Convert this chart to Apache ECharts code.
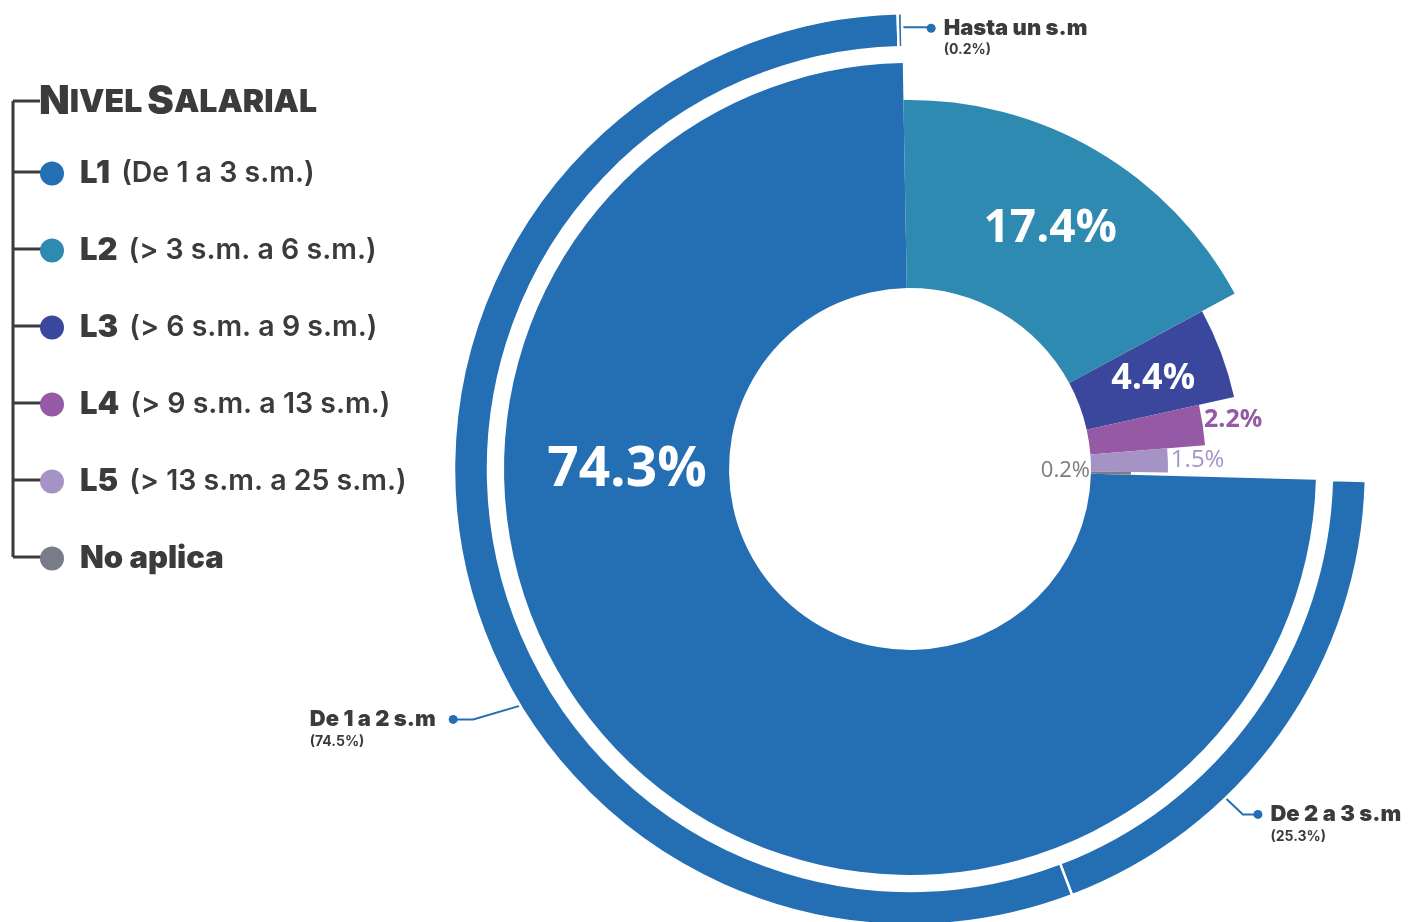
<!DOCTYPE html>
<html><head><meta charset="utf-8">
<script src="https://cdn.jsdelivr.net/npm/echarts@6/dist/echarts.min.js"></script>
<style>html,body{margin:0;padding:0;background:#fff}#c{width:1408px;height:922px}</style>
</head><body><div id="c"></div>
<script>
// ---- data ----
const levels = ['L1', 'L2', 'L3', 'L4', 'L5', 'No aplica'];
const levelRanges = ['De 1 a 3 s.m.', '> 3 s.m. a 6 s.m.', '> 6 s.m. a 9 s.m.', '> 9 s.m. a 13 s.m.', '> 13 s.m. a 25 s.m.', ''];
const levelShares = [74.3, 17.4, 4.4, 2.2, 1.5, 0.2];
const l1Groups = ['De 2 a 3 s.m', 'De 1 a 2 s.m', 'Hasta un s.m'];
const l1GroupShares = [25.3, 74.5, 0.2];

// ---- style ----
const colors = ['#246fb4', '#2e8ab0', '#3b479d', '#9559a5', '#a693c6', '#787b88'];
const CX = 910, CY = 469, R_IN = 181;
const outerR = [406, 369, 332, 296, 258, 221];
const START = -1.5;
const TXT = '#3d3a3a';
const HEAVY = 'Inter';
const LEG_LEFT = 40, LEG_ICON = 24, LEG_TEXT_H = 28, LEG_STEP = 77;
const LEG_GAP = 46;
const LEG_FIRST_Y = 172;
const LEG_TOP = LEG_FIRST_Y - LEG_TEXT_H / 2;

function polar(deg, r) {
  const a = deg * Math.PI / 180;
  return [CX + r * Math.cos(a), CY - r * Math.sin(a)];
}

const hidden = {
  itemStyle: { color: 'rgba(0,0,0,0)', borderWidth: 0 },
  label: { show: false }, labelLine: { show: false },
  emphasis: { disabled: true }
};

const innerLabel = [
  { position: 'inside', fontSize: 55, fontWeight: 700, color: '#fff' },
  { position: 'inside', fontSize: 46, fontWeight: 700, color: '#fff' },
  { position: 'inside', fontSize: 36, fontWeight: 700, color: '#fff' },
  { position: 'outside', fontSize: 25, fontWeight: 700, color: '#9559a5', distanceToLabelLine: 0 },
  { position: 'outside', fontSize: 24, fontWeight: 400, color: '#a693c6', distanceToLabelLine: 3 },
  { position: 'inside', fontSize: 22, fontWeight: 400, color: '#7a7a80' }
];
const innerLayout = {
  0: () => { const p = polar(180.3, 283); return { x: p[0], y: p[1], align: 'center', verticalAlign: 'middle' }; },
  3: () => { const p = polar(9.4, 298); return { x: p[0], y: p[1], align: 'left', verticalAlign: 'middle' }; },
  5: () => { const p = polar(-0.6, R_IN - 1); return { x: p[0], y: p[1], align: 'right', verticalAlign: 'middle' }; }
};

const innerSeries = levels.map((name, i) => ({
  type: 'pie',
  center: [CX, CY],
  radius: [R_IN, outerR[i]],
  startAngle: START,
  clockwise: true,
  avoidLabelOverlap: false,
  silent: true,
  animation: false,
  data: levels.map((n, j) => j === i ? {
    name: n, value: levelShares[j],
    itemStyle: { color: colors[j], borderWidth: 0 },
    label: Object.assign({ show: true, fontFamily: 'Open Sans', formatter: levelShares[j] + '%' }, innerLabel[j]),
    labelLine: { show: false, length: 0, length2: 0 }
  } : Object.assign({ name: '', value: levelShares[j] }, hidden)),
  labelLayout: innerLayout[i] ? function (p) { return p.dataIndex === i ? innerLayout[i](p) : {}; } : undefined
}));

// outer ring: breakdown of L1
const l1 = levelShares[0];
const outerData = l1Groups.map((g, k) => ({
  name: g, value: l1 * l1GroupShares[k] / 100,
  itemStyle: { color: colors[0], borderColor: '#fff', borderWidth: 2.5 },
  label: {
    show: true,
    formatter: k === 1
      ? '{gap| }\n{t|' + g + '}{spl|}{dot|}\n{s|(' + l1GroupShares[k] + '%)}'
      : '{gap| }\n{dot|}{sp|}{t|' + g + '}\n{pad|}{s|(' + l1GroupShares[k] + '%)}'
  },
  labelLine: { show: true, lineStyle: { color: colors[0], width: 2 } }
}));
outerData.push(Object.assign({ name: '', value: 100 - l1 }, hidden));

const anchors = {
  0: () => { const s = polar(-46.2, 455); const e = [s[0] + 18, s[1] + 17]; const f = [e[0] + 15, e[1]]; return { pts: [s, e, f], x: f[0] - 4.5, align: 'left', y: f[1] }; },
  1: () => { const s = polar(211.3, 455); const e = [s[0] - 48, s[1] + 14]; const f = [e[0] - 20, e[1]]; return { pts: [s, e, f], x: f[0] + 4.5, align: 'right', y: f[1] }; },
  2: () => { const s = polar(91.8, 441); const f = [s[0] + 35, s[1] - 1]; return { pts: [s, [s[0] + 1, s[1] - 1], f], x: f[0] - 4.5, align: 'left', y: f[1] + 1 }; }
};

const outerSeries = {
  type: 'pie',
  center: [CX, CY],
  radius: [422, 456],
  startAngle: START,
  clockwise: true,
  avoidLabelOverlap: false,
  silent: true,
  animation: false,
  label: {
    rich: {
      gap: { fontSize: 12, lineHeight: 22 },
      t: { fontFamily: HEAVY, fontWeight: 900, fontSize: 22, color: TXT, lineHeight: 22 },
      s: { fontFamily: HEAVY, fontWeight: 700, fontSize: 14, color: TXT, lineHeight: 22, align: 'left' },
      dot: { width: 9, height: 9, borderRadius: 4.5, backgroundColor: colors[0] },
      sp: { width: 8 },
      spl: { width: 13 },
      pad: { width: 17 }
    }
  },
  data: outerData,
  labelLayout: function (p) {
    const a = anchors[p.dataIndex];
    if (!a) return {};
    const r = a();
    return { x: r.x, y: r.y, align: r.align, verticalAlign: 'middle', labelLinePoints: r.pts };
  }
};

// bracket for legend
const bracket = [];
const titleY = 101;
const iconY = i => LEG_FIRST_Y + i * LEG_STEP;
bracket.push({ type: 'line', shape: { x1: 13, y1: titleY, x2: 13, y2: iconY(levels.length - 1) }, style: { stroke: TXT, lineWidth: 3 } });
bracket.push({ type: 'line', shape: { x1: 13, y1: titleY, x2: 40, y2: titleY }, style: { stroke: TXT, lineWidth: 3 } });
levels.forEach((n, i) => {
  bracket.push({ type: 'line', shape: { x1: 13, y1: iconY(i), x2: LEG_LEFT + 2, y2: iconY(i) }, style: { stroke: TXT, lineWidth: 3 } });
});

const option = {
  backgroundColor: '#fff',
  title: {
    text: '{N|N}{s|IVEL} {N|S}{s|ALARIAL}',
    left: 39, top: 81, padding: 0,
    textStyle: {
      rich: {
        N: { fontFamily: HEAVY, fontWeight: 900, fontSize: 40, color: TXT, lineHeight: 42 },
        s: { fontFamily: HEAVY, fontWeight: 900, fontSize: 32, color: TXT, lineHeight: 42 }
      }
    }
  },
  legend: {
    orient: 'vertical',
    left: LEG_LEFT, top: LEG_TOP, padding: 0,
    itemWidth: LEG_ICON, itemHeight: LEG_ICON, itemGap: LEG_GAP,
    icon: 'circle',
    selectedMode: false,
    data: levels,
    formatter: function (name) {
      const i = levels.indexOf(name);
      return levelRanges[i] ? '{sp|}{b|' + name + '}{g|}{n|(' + levelRanges[i] + ')}' : '{sp|}{b|' + name + '}';
    },
    textStyle: {
      rich: {
        sp: { width: 11, height: LEG_TEXT_H },
        g: { width: 11, height: LEG_TEXT_H },
        b: { fontFamily: HEAVY, fontWeight: 900, fontSize: 31, color: TXT, height: LEG_TEXT_H, lineHeight: LEG_TEXT_H },
        n: { fontFamily: HEAVY, fontWeight: 600, fontSize: 28.5, color: TXT, height: LEG_TEXT_H, lineHeight: LEG_TEXT_H }
      }
    }
  },
  graphic: bracket,
  series: innerSeries.concat([outerSeries])
};

const chart = echarts.init(document.getElementById('c'));
chart.setOption(option);
</script>
</body></html>
